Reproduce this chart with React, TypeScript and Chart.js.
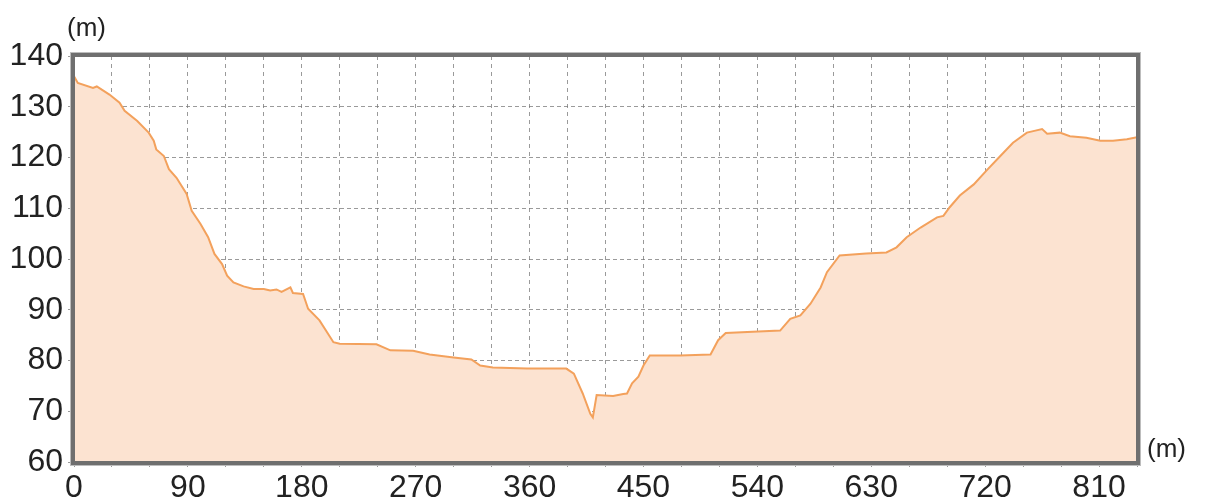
import React, { useEffect, useRef } from "react";
import { Chart, registerables } from "chart.js";

Chart.register(...registerables);

const distances = [0, 3, 15, 18, 28, 36, 40, 50, 59, 63, 65, 71, 75, 81, 89, 93, 100, 106, 111, 117, 121, 126, 134, 142, 150, 155, 160, 164, 171, 173, 181, 185, 194, 205, 210, 239, 250, 268, 281, 300, 314, 321, 331, 358, 389, 395, 402, 408, 410, 413, 426, 434, 437, 441, 446, 450, 455, 479, 503, 509, 515, 558, 566, 574, 582, 590, 595, 605, 626, 642, 650, 658, 669, 682, 687, 692, 700, 711, 721, 732, 742, 753, 758, 765, 769, 779, 787, 800, 811, 821, 832, 840];
const elevations = [136, 134.7, 133.7, 134, 132.4, 130.8, 129.2, 127.2, 124.9, 123.3, 121.6, 120.3, 117.7, 116, 112.8, 109.5, 106.9, 104.3, 101, 99, 96.7, 95.4, 94.6, 94.1, 94.1, 93.8, 94, 93.5, 94.4, 93.3, 93.1, 90.2, 87.9, 83.6, 83.3, 83.2, 82, 81.9, 81.2, 80.6, 80.2, 79, 78.6, 78.4, 78.4, 77.4, 73.5, 69.5, 68.8, 73.2, 73, 73.4, 73.5, 75.5, 76.8, 79, 81, 81, 81.2, 84, 85.4, 85.9, 88.2, 88.9, 91.2, 94.4, 97.4, 100.7, 101.1, 101.3, 102.3, 104.3, 106.2, 108.2, 108.5, 110.2, 112.5, 114.7, 117.4, 120.3, 122.9, 124.9, 125.2, 125.6, 124.7, 124.9, 124.2, 123.9, 123.3, 123.3, 123.6, 124];
const xLabelStep = 90;
const xGridStep = 30;
const yMin = 60;
const yMax = 140;
const yStep = 10;
const xMin = 0;
const xMax = 840;
const unitLabel = "(m)";

const FONT = "'Liberation Sans', Arial, sans-serif";

export default function App() {
  const ref = useRef<HTMLCanvasElement | null>(null);
  useEffect(() => {
    const canvas = ref.current;
    if (!canvas) return;
    const borderPlugin = {
      id: "frameAndUnits",
      afterDraw(chart: any) {
        const { ctx, chartArea } = chart;
        ctx.save();
        ctx.strokeStyle = "#bdbdbd";
        ctx.lineWidth = 1;
        ctx.strokeRect(chartArea.left - 3.5, chartArea.top - 3.5, chartArea.right - chartArea.left + 7, chartArea.bottom - chartArea.top + 7);
        ctx.strokeStyle = "#6f6f6f";
        ctx.lineWidth = 4;
        ctx.strokeRect(chartArea.left - 1, chartArea.top - 1, chartArea.right - chartArea.left + 2, chartArea.bottom - chartArea.top + 2);
        ctx.fillStyle = "#222";
        ctx.font = `26px ${FONT}`;
        ctx.textBaseline = "middle";
        ctx.textAlign = "left";
        ctx.fillText(unitLabel, 67, 29);
        ctx.fillText(unitLabel, 1147, 450);
        ctx.restore();
      },
    };
    const chart = new Chart(canvas, {
      type: "line",
      data: {
        datasets: [
          {
            data: distances.map((d, i) => ({ x: d, y: elevations[i] })),
            borderColor: "#f3a15c",
            backgroundColor: "#fce3d1",
            borderWidth: 2,
            pointRadius: 0,
            tension: 0,
            fill: "start",
          },
        ],
      },
      options: {
        animation: false,
        responsive: false,
        layout: { padding: { top: 56, right: 68, left: 0, bottom: 0 } },
        plugins: { legend: { display: false }, tooltip: { enabled: false } },
        scales: {
          x: {
            type: "linear",
            min: xMin,
            max: xMax,
            afterFit: (s: any) => {
              s.height = 37;
            },
            ticks: {
              stepSize: xGridStep,
              autoSkip: false,
              maxRotation: 0,
              padding: 2,
              color: "#222",
              font: { size: 32, family: FONT },
              callback: (v: any) => (Number(v) % xLabelStep === 0 ? String(v) : ""),
            },
            grid: {
              color: "rgba(120,120,120,0.75)",
              lineWidth: 1,
              tickLength: 5,
              borderDash: [4, 4] as any,
            } as any,
            border: { display: false, dash: [4, 4] },
          },
          y: {
            min: yMin,
            max: yMax,
            afterFit: (s: any) => {
              s.width = 74;
            },
            ticks: {
              stepSize: yStep,
              padding: 5,
              color: "#222",
              font: { size: 32, family: FONT },
            },
            grid: {
              color: "rgba(120,120,120,0.75)",
              lineWidth: 1,
              tickLength: 6,
            },
            border: { display: false, dash: [4, 3] },
          },
        },
      },
      plugins: [borderPlugin],
    });
    return () => chart.destroy();
  }, []);
  return (
    <div style={{ position: "fixed", left: 0, top: 0, width: 1205, height: 499, background: "#fff" }}>
      <canvas ref={ref} width={1205} height={499} style={{ width: 1205, height: 499 }} />
    </div>
  );
}
